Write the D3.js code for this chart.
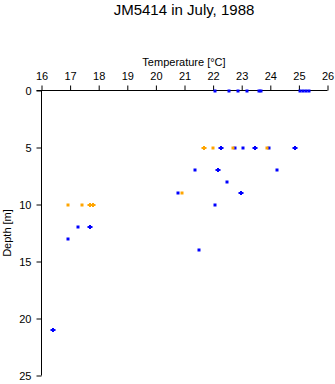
<!DOCTYPE html>
<html><head><meta charset="utf-8">
<script src="https://cdn.jsdelivr.net/npm/d3@7"></script>
<style>body{margin:0;background:#fff}svg{display:block}text{font-family:"Liberation Sans",Arial,sans-serif;fill:#000}</style>
</head><body>
<script>
const title = "JM5414 in July, 1988";
const xTicks = [16,17,18,19,20,21,22,23,24,25,26];
const yTicks = [0,5,10,15,20,25];

const blueTemp  = [22.07,22.57,22.87,23.17,23.59,23.67,25.05,25.13,25.24,25.36,
                   22.28,22.78,23.06,23.47,23.97,24.87,
                   21.38,22.17,24.25,
                   22.47,
                   20.79,22.97,
                   22.08,
                   17.29,17.69,
                   16.91,
                   21.49,
                   16.41];
const blueDepth = [0,0,0,0,0,0,0,0,0,0,
                   5,5,5,5,5,5,
                   7,7,7,
                   8,
                   9,9,
                   10,
                   12,12,
                   13,
                   14,
                   21];
const blueShape = ["s","s","s","s","s","s","s","s","s","s",
                   "p","s","s","p","s","p",
                   "s","p","s",
                   "s",
                   "s","p",
                   "s",
                   "s","p",
                   "s",
                   "s",
                   "p"];
const orangeTemp  = [21.68,21.98,22.68,23.87,20.90,16.91,17.40,17.69,17.81];
const orangeDepth = [5,5,5,5,9,10,10,10,10];
const orangeShape = ["p","s","s","s","s","s","s","p","p"];

const W = 335, H = 384;
const svg = d3.select("body").append("svg").attr("width",W).attr("height",H);
const x = d3.scaleLinear().domain([16,26]).range([41.5,327.5]);
const y = d3.scaleLinear().domain([0,25]).range([90.5,375.5]);

svg.append("text").attr("x",184).attr("y",15).attr("text-anchor","middle")
  .style("font-size","15px").text(title);

const gx = svg.append("g").attr("transform","translate(0,"+y(0)+")")
  .call(d3.axisTop(x).tickValues(xTicks).tickFormat(d3.format("d")).tickSize(5).tickPadding(6));
const gy = svg.append("g").attr("transform","translate("+x(16)+",0)")
  .call(d3.axisLeft(y).tickValues(yTicks).tickFormat(d3.format("d")).tickSize(5).tickPadding(5));
[gx,gy].forEach(g=>{
  g.selectAll("line").attr("stroke","#000").attr("stroke-width",1);
  g.selectAll("text").style("font-size","11px").attr("font-family","Liberation Sans, Arial, sans-serif");
});
gx.select(".domain").remove(); gy.select(".domain").remove();
svg.append("line").attr("x1",x(16)-5).attr("x2",x(26)).attr("y1",y(0)).attr("y2",y(0)).attr("stroke","#000");
svg.append("line").attr("x1",x(16)).attr("x2",x(16)).attr("y1",y(0)).attr("y2",y(25)).attr("stroke","#000");

svg.append("text").attr("x",184).attr("y",66).attr("text-anchor","middle")
  .style("font-size","11px").text("Temperature [\u00B0C]");
svg.append("text").attr("transform","translate(11,"+233+") rotate(-90)").attr("text-anchor","middle")
  .style("font-size","11px").text("Depth [m]");

const sq = "M-1.5,-1.5h3v3h-3z";
const plus = "M-2.5,-1h5v2h-5z M-1,-2h2v4h-2z";
function draw(temps, depths, shapes, color){
  svg.append("g").selectAll("path").data(temps.map((t,i)=>({t,d:depths[i],s:shapes[i]})))
    .join("path")
    .attr("transform",p=>"translate("+Math.round(x(p.t))+","+Math.round(y(p.d))+")")
    .attr("d",p=>p.s==="p"?plus:sq)
    .attr("fill",color);
}
draw(blueTemp, blueDepth, blueShape, "#0000ff");
draw(orangeTemp, orangeDepth, orangeShape, "#ffa500");
</script>
</body></html>
